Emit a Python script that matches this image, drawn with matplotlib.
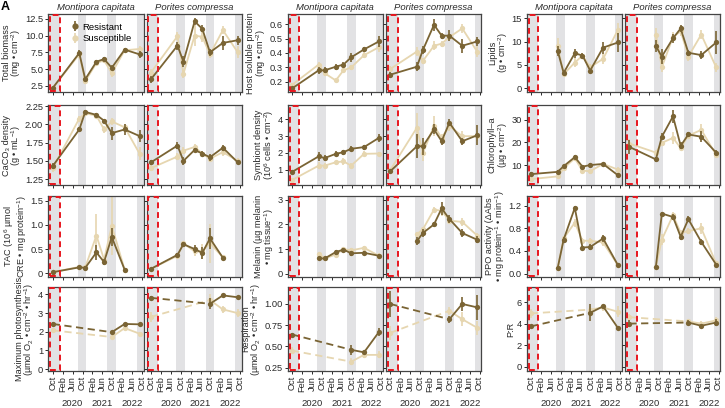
import matplotlib
matplotlib.use("Agg")
import matplotlib.pyplot as plt
import numpy as np
from matplotlib.patches import Rectangle
from matplotlib.lines import Line2D
from matplotlib.legend_handler import HandlerTuple

plt.rcParams['font.family'] = ['Liberation Sans', 'DejaVu Sans']
plt.rcParams['mathtext.fontset'] = 'custom'
plt.rcParams['mathtext.rm'] = 'Liberation Sans'
nan = np.nan

# sampling times, months since Oct 2019
t_all = [0, 10.7, 13.1, 17.6, 20.7, 23.8, 29, 35]
t_resp = [0, 23.8, 29, 35]
tick_months = [0, 4, 8, 12, 16, 20, 24, 28, 32, 36]
tick_labels = ["Oct", "Feb", "Jun", "Oct", "Feb", "Jun", "Oct", "Feb", "Jun", "Oct"]
year_months = [8, 20, 32]
year_labels = ["2020", "2021", "2022"]
species = ["Montipora capitata", "Porites compressa"]

# Total biomass
biomass_mc_R = [2.2, 7.4, 3.5, 6.1, 6.5, 5.2, 7.9, 7.2]
biomass_mc_R_err = [0.2, 0.4, 0.3, 0.3, 0.3, 0.4, 0.3, 0.5]
biomass_mc_S = [2.2, 7.2, 3.2, 5.9, 6.3, 4.4, 7.8, 8.0]
biomass_mc_S_err = [0.2, 0.5, 0.4, 0.3, 0.4, 0.5, 0.3, 0.5]
biomass_pc_R = [3.5, 8.5, 6.1, 12.1, 11.0, 7.5, 8.9, 9.3]
biomass_pc_R_err = [0.5, 0.6, 0.8, 0.5, 0.5, 0.5, 1.0, 0.7]
biomass_pc_S = [4.5, 9.9, 4.3, 10.0, 9.8, 7.2, 10.8, 7.5]
biomass_pc_S_err = [0.5, 0.6, 0.6, 1.5, 0.7, 0.5, 0.6, 0.9]

# Host soluble protein
protein_mc_R = [0.155, 0.28, 0.28, 0.305, 0.32, 0.37, 0.425, 0.48]
protein_mc_R_err = [0.01, 0.025, 0.02, 0.02, 0.02, 0.03, 0.02, 0.04]
protein_mc_S = [0.18, 0.32, 0.26, 0.21, 0.28, 0.30, 0.385, 0.44]
protein_mc_S_err = [0.01, 0.02, 0.02, 0.01, 0.02, 0.02, 0.02, 0.03]
protein_pc_R = [0.25, 0.305, 0.42, 0.595, 0.52, 0.52, 0.45, 0.48]
protein_pc_R_err = [0.02, 0.03, 0.03, 0.04, 0.02, 0.04, 0.05, 0.03]
protein_pc_S = [0.29, 0.41, 0.345, 0.45, 0.465, 0.51, 0.57, 0.41]
protein_pc_S_err = [0.02, 0.03, 0.02, 0.03, 0.02, 0.02, 0.03, 0.04]

# Lipids
lipids_mc_R = [nan, 8.0, 3.3, 7.5, 7.0, 3.8, 8.7, 9.8]
lipids_mc_R_err = [0, 1.0, 0.4, 1.0, 0.6, 0.4, 1.3, 2.0]
lipids_mc_S = [nan, 9.0, 3.0, 5.5, 7.0, 4.5, 6.3, 12.5]
lipids_mc_S_err = [0, 1.8, 0.4, 1.0, 0.6, 0.8, 1.0, 1.5]
lipids_pc_R = [nan, 9.0, 6.8, 10.7, 12.8, 7.6, 7.1, 9.8]
lipids_pc_R_err = [0, 1.3, 1.5, 1.0, 0.8, 0.6, 0.9, 2.5]
lipids_pc_S = [nan, 11.5, 4.5, 11.0, 12.2, 6.8, 11.5, 4.5]
lipids_pc_S_err = [0, 1.5, 1.0, 1.0, 1.0, 1.0, 1.0, 1.0]

# CaCO3 density
calc_mc_R = [1.43, 1.93, 2.17, 2.13, 2.05, 1.88, 1.93, 1.84]
calc_mc_R_err = [0.04, 0.03, 0.02, 0.02, 0.03, 0.09, 0.07, 0.08]
calc_mc_S = [1.40, 2.08, 2.15, 2.12, 1.93, 2.04, 1.96, 1.60]
calc_mc_S_err = [0.05, 0.04, 0.02, 0.03, 0.05, 0.05, 0.05, 0.09]
calc_pc_R = [1.48, 1.71, 1.50, 1.65, 1.60, 1.55, 1.68, 1.48]
calc_pc_R_err = [0.03, 0.05, 0.05, 0.03, 0.03, 0.05, 0.04, 0.02]
calc_pc_S = [1.40, 1.56, 1.64, 1.69, 1.60, 1.53, 1.62, 1.50]
calc_pc_S_err = [0.04, 0.05, 0.05, 0.04, 0.03, 0.04, 0.05, 0.04]

# Symbiont density
symb_mc_R = [0.88, 1.8, 1.7, 1.95, 2.05, 2.25, 2.35, 2.9]
symb_mc_R_err = [0.1, 0.25, 0.2, 0.15, 0.15, 0.15, 0.15, 0.25]
symb_mc_S = [0.4, 1.25, 1.25, 1.45, 1.5, 1.25, 1.95, 1.97]
symb_mc_S_err = [0.1, 0.2, 0.15, 0.1, 0.2, 0.15, 0.15, 0.1]
symb_pc_R = [0.92, 2.4, 2.4, 3.4, 2.7, 3.8, 2.7, 3.05]
symb_pc_R_err = [0.1, 0.7, 0.5, 0.3, 0.2, 0.2, 0.2, 0.6]
symb_pc_S = [1.0, 3.5, 2.0, 3.6, 2.9, 3.6, 3.0, 3.0]
symb_pc_S_err = [0.1, 0.9, 0.5, 0.6, 0.2, 0.3, 0.3, 0.3]

# Chlorophyll-a
chl_mc_R = [6.0, 7.0, 9.5, 13.5, 9.3, 10.0, 10.5, 5.5]
chl_mc_R_err = [1.0, 0.8, 0.7, 1.0, 0.8, 0.8, 0.6, 0.8]
chl_mc_S = [3.8, 5.0, 8.5, 13.0, 7.5, 7.3, 10.5, 8.0]
chl_mc_S_err = [0.5, 0.8, 0.8, 1.0, 1.0, 1.0, 0.8, 1.0]
chl_pc_R = [18.0, 12.5, 22.5, 31.5, 18.5, 23.5, 22.5, 15.5]
chl_pc_R_err = [3.0, 1.0, 1.5, 3.0, 1.5, 1.0, 2.5, 1.0]
chl_pc_S = [19.5, 15.5, 19.8, 22.0, 17.5, 23.0, 25.5, 14.5]
chl_pc_S_err = [2.0, 1.0, 1.0, 2.5, 1.0, 1.0, 2.5, 1.0]

# Total antioxidant capacity
tac_mc_R = [0.02, 0.12, 0.11, 0.43, 0.23, 0.75, 0.07, nan]
tac_mc_R_err = [0.02, 0.03, 0.03, 0.15, 0.07, 0.18, 0.02, 0]
tac_mc_S = [0.02, 0.13, 0.12, 0.78, 0.28, 0.98, 0.07, nan]
tac_mc_S_err = [0.02, 0.03, 0.03, 0.45, 0.07, 0.6, 0.02, 0]
tac_pc_R = [0.09, 0.38, 0.60, 0.50, 0.42, 0.72, 0.32, nan]
tac_pc_R_err = [0.02, 0.03, 0.05, 0.08, 0.13, 0.22, 0.03, 0]
tac_pc_S = [0.09, 0.36, 0.62, 0.45, 0.45, 0.62, 0.33, nan]
tac_pc_S_err = [0.02, 0.03, 0.05, 0.1, 0.15, 0.4, 0.03, 0]

# Melanin
mel_mc_R = [nan, 0.62, 0.62, 0.88, 0.98, 0.83, 0.85, 0.73]
mel_mc_R_err = [0, 0.05, 0.04, 0.1, 0.08, 0.1, 0.08, 0.08]
mel_mc_S = [nan, 0.82, 0.62, 0.78, 1.0, 0.95, 1.05, 0.73]
mel_mc_S_err = [0, 0.08, 0.04, 0.08, 0.08, 0.08, 0.08, 0.1]
mel_pc_R = [nan, 1.32, 1.65, 2.0, 2.65, 2.22, 1.65, 1.38]
mel_pc_R_err = [0, 0.15, 0.15, 0.1, 0.25, 0.15, 0.15, 0.15]
mel_pc_S = [nan, 1.6, 1.8, 2.6, 2.55, 2.15, 2.1, 1.55]
mel_pc_S_err = [0, 0.1, 0.1, 0.1, 0.2, 0.1, 0.15, 0.1]

# PPO activity
ppo_mc_R = [nan, 0.10, 0.60, 1.16, 0.46, 0.47, 0.62, 0.15]
ppo_mc_R_err = [0, 0.03, 0.05, 0.03, 0.03, 0.05, 0.06, 0.03]
ppo_mc_S = [nan, 0.10, 0.62, 0.90, 0.58, 0.58, 0.55, 0.15]
ppo_mc_S_err = [0, 0.03, 0.05, 0.07, 0.05, 0.05, 0.06, 0.03]
ppo_pc_R = [nan, 0.12, 1.06, 1.0, 0.65, 0.96, 0.56, 0.16]
ppo_pc_R_err = [0, 0.03, 0.02, 0.05, 0.05, 0.05, 0.05, 0.03]
ppo_pc_S = [nan, 0.12, 0.60, 1.03, 0.72, 0.75, 0.80, 0.18]
ppo_pc_S_err = [0, 0.03, 0.1, 0.05, 0.05, 0.05, 0.1, 0.03]

# Maximum photosynthesis
pmax_mc_R = [2.42, 1.98, 2.42, 2.4]
pmax_mc_R_err = [0.1, 0.08, 0.05, 0.05]
pmax_mc_S = [2.08, 1.72, 2.2, 1.9]
pmax_mc_S_err = [0.1, 0.08, 0.08, 0.08]
pmax_pc_R = [3.82, 3.5, 3.95, 3.85]
pmax_pc_R_err = [0.1, 0.3, 0.05, 0.05]
pmax_pc_S = [2.8, 3.7, 3.2, 3.0]
pmax_pc_S_err = [0.25, 0.3, 0.2, 0.2]

# Respiration
resp_mc_R = [0.64, 0.46, 0.43, 0.67]
resp_mc_R_err = [0.02, 0.06, 0.02, 0.05]
resp_mc_S = [0.45, 0.32, 0.40, 0.40]
resp_mc_S_err = [0.04, 0.04, 0.04, 0.04]
resp_pc_R = [1.0, 0.82, 1.0, 0.96]
resp_pc_R_err = [0.15, 0.04, 0.08, 0.15]
resp_pc_S = [0.66, 0.92, 0.82, 0.72]
resp_pc_S_err = [0.08, 0.05, 0.08, 0.08]

# P:R
pr_mc_R = [3.75, 5.0, 5.6, 3.6]
pr_mc_R_err = [0.15, 0.8, 0.15, 0.1]
pr_mc_S = [4.95, 5.3, 5.5, 5.1]
pr_mc_S_err = [0.4, 0.3, 0.3, 0.5]
pr_pc_R = [4.0, 4.1, 3.8, 4.1]
pr_pc_R_err = [0.3, 0.2, 0.1, 0.3]
pr_pc_S = [4.6, 4.2, 4.0, 4.3]
pr_pc_S_err = [0.3, 0.2, 0.2, 0.3]

COL_R = '#7a6434'
COL_S = '#e6d6b0'
GREY = '#e2e2e4'
RED = '#e8161e'
TXT = '#2a2a2a'

panels = [
    (0, 0, "Total biomass\n(mg • cm$^{-2}$)", (1.6, 13.2), [2.5, 5, 7.5, 10, 12.5], ["2.5", "5.0", "7.5", "10.0", "12.5"], t_all,
     [(biomass_mc_R, biomass_mc_R_err, biomass_mc_S, biomass_mc_S_err), (biomass_pc_R, biomass_pc_R_err, biomass_pc_S, biomass_pc_S_err)], False),
    (0, 1, "Host soluble protein\n(mg • cm$^{-2}$)", (0.13, 0.67), [0.2, 0.3, 0.4, 0.5, 0.6], ["0.2", "0.3", "0.4", "0.5", "0.6"], t_all,
     [(protein_mc_R, protein_mc_R_err, protein_mc_S, protein_mc_S_err), (protein_pc_R, protein_pc_R_err, protein_pc_S, protein_pc_S_err)], False),
    (0, 2, "Lipids\n(g • cm$^{-2}$)", (-0.8, 15.9), [0, 5, 10, 15], ["0", "5", "10", "15"], t_all,
     [(lipids_mc_R, lipids_mc_R_err, lipids_mc_S, lipids_mc_S_err), (lipids_pc_R, lipids_pc_R_err, lipids_pc_S, lipids_pc_S_err)], False),
    (1, 0, "CaCO₃ density\n(g • mL$^{-1}$)", (1.17, 2.265), [1.25, 1.5, 1.75, 2.0, 2.25], ["1.25", "1.50", "1.75", "2.00", "2.25"], t_all,
     [(calc_mc_R, calc_mc_R_err, calc_mc_S, calc_mc_S_err), (calc_pc_R, calc_pc_R_err, calc_pc_S, calc_pc_S_err)], False),
    (1, 1, "Symbiont density\n(10$^6$ cells • cm$^{-2}$)", (0.1, 4.85), [1, 2, 3, 4], ["1", "2", "3", "4"], t_all,
     [(symb_mc_R, symb_mc_R_err, symb_mc_S, symb_mc_S_err), (symb_pc_R, symb_pc_R_err, symb_pc_S, symb_pc_S_err)], False),
    (1, 2, "Chlorophyll–a\n(µg • cm$^{-2}$)", (1.2, 36.5), [10, 20, 30], ["10", "20", "30"], t_all,
     [(chl_mc_R, chl_mc_R_err, chl_mc_S, chl_mc_S_err), (chl_pc_R, chl_pc_R_err, chl_pc_S, chl_pc_S_err)], False),
    (2, 0, "TAC (10$^6$ µmol\nCRE • mg protein$^{-1}$)", (-0.08, 1.6), [0, 0.5, 1.0, 1.5], ["0", "0.5", "1.0", "1.5"], t_all,
     [(tac_mc_R, tac_mc_R_err, tac_mc_S, tac_mc_S_err), (tac_pc_R, tac_pc_R_err, tac_pc_S, tac_pc_S_err)], False),
    (2, 1, "Melanin (µg melanin\n• mg tissue$^{-1}$)", (-0.13, 3.15), [0, 1, 2, 3], ["0", "1", "2", "3"], t_all,
     [(mel_mc_R, mel_mc_R_err, mel_mc_S, mel_mc_S_err), (mel_pc_R, mel_pc_R_err, mel_pc_S, mel_pc_S_err)], False),
    (2, 2, "PPO activity (ΔAbs\n• mg protein$^{-1}$ • min$^{-1}$)", (-0.06, 1.37), [0, 0.4, 0.8, 1.2], ["0.0", "0.4", "0.8", "1.2"], t_all,
     [(ppo_mc_R, ppo_mc_R_err, ppo_mc_S, ppo_mc_S_err), (ppo_pc_R, ppo_pc_R_err, ppo_pc_S, ppo_pc_S_err)], False),
    (3, 0, "Maximum photosynthesis\n(µmol O$_2$ • cm$^{-2}$ • hr$^{-1}$)", (-0.1, 4.4), [0, 1, 2, 3, 4], ["0", "1", "2", "3", "4"], t_resp,
     [(pmax_mc_R, pmax_mc_R_err, pmax_mc_S, pmax_mc_S_err), (pmax_pc_R, pmax_pc_R_err, pmax_pc_S, pmax_pc_S_err)], True),
    (3, 1, "Respiration\n(µmol O$_2$ • cm$^{-2}$ • hr$^{-1}$)", (0.21, 1.2), [0.25, 0.5, 0.75, 1.0], ["0.25", "0.50", "0.75", "1.00"], t_resp,
     [(resp_mc_R, resp_mc_R_err, resp_mc_S, resp_mc_S_err), (resp_pc_R, resp_pc_R_err, resp_pc_S, resp_pc_S_err)], True),
    (3, 2, "P:R", (-0.4, 7.4), [0, 2, 4, 6], ["0", "2", "4", "6"], t_resp,
     [(pr_mc_R, pr_mc_R_err, pr_mc_S, pr_mc_S_err), (pr_pc_R, pr_pc_R_err, pr_pc_S, pr_pc_S_err)], True),
]

W, H = 725, 408
fig = plt.figure(figsize=(W / 100, H / 100), dpi=100)

col_left = [48.3, 287.7, 526.7]
pw = 95.2
gap = 3.0
row_top = [14, 105, 196, 287]
row_h = [78, 80, 81, 84]
XLIM = (-1.8, 36.6)
bands = [(-3, 2.9), (10, 13.6), (22, 25.6), (34, 40)]


def draw_series(ax, t, y, e, color, dashed, z):
    t = np.asarray(t, float)
    y = np.asarray(y, float)
    e = np.asarray(e, float)
    ok = ~np.isnan(y)
    ax.errorbar(t[ok], y[ok], yerr=e[ok], fmt='none', ecolor=color, elinewidth=1.2, capsize=0, zorder=z)
    if dashed:
        ax.plot(t[:2], y[:2], color=color, lw=1.3, ls=(0, (4, 2.5)), zorder=z)
        ax.plot(t[1:], y[1:], color=color, lw=1.3, zorder=z)
    else:
        ax.plot(t[ok], y[ok], color=color, lw=1.3, zorder=z)
    ax.plot(t[ok], y[ok], 'o', color=color, ms=3.8, mew=0, zorder=z + 0.1)


label_jobs = []
for (r, c, ylab, ylim, yt, ytl, tt, ser, dashed) in panels:
    for k in range(2):
        x0 = col_left[c] + k * (pw + gap)
        y0 = row_top[r] + row_h[r]
        ax = fig.add_axes([x0 / W, 1 - y0 / H, pw / W, row_h[r] / H])
        ax.set_xlim(*XLIM)
        ax.set_ylim(*ylim)
        for b0, b1 in bands:
            ax.axvspan(b0, b1, color=GREY, lw=0, zorder=0)
        yr = ylim[1] - ylim[0]
        ax.add_patch(Rectangle((-1.0, ylim[0] + 0.008 * yr), 3.9, 0.984 * yr, fill=False,
                               ec=RED, lw=1.4, ls=(0, (3, 2)), zorder=5))
        mR, eR, mS, eS = ser[k]
        draw_series(ax, tt, mS, eS, COL_S, dashed, 2)
        draw_series(ax, tt, mR, eR, COL_R, dashed, 3)
        for s in ax.spines.values():
            s.set_color('#444444')
            s.set_linewidth(0.9)
        ax.set_yticks(yt)
        ax.set_xticks(tick_months)
        ax.tick_params(length=2.5, width=0.7, color=TXT, labelsize=6.7, labelcolor=TXT, pad=1.2)
        if k == 0:
            ax.set_yticklabels(ytl)
            label_jobs.append((ax, ylab, row_top[r] + row_h[r] / 2))
        else:
            ax.set_yticklabels([])
        if r == 3:
            ax.set_xticklabels(tick_labels, rotation=90, fontsize=6.7)
            for ym, yl in zip(year_months, year_labels):
                ax.text(ym, -0.33, yl, transform=ax.get_xaxis_transform(), ha='center',
                        va='top', fontsize=6.8, color=TXT)
        else:
            ax.set_xticklabels([])
        if r == 0:
            ax.set_title(species[k], fontsize=6.8, style='italic', color=TXT, pad=3)
        if r == 0 and c == 0 and k == 0:
            hR = (Line2D([], [], color=COL_R, marker='|', ms=7, mew=1.2, ls='none'),
                  Line2D([], [], color=COL_R, marker='o', ms=4.5, mew=0, ls='none'))
            hS = (Line2D([], [], color=COL_S, marker='|', ms=7, mew=1.2, ls='none'),
                  Line2D([], [], color=COL_S, marker='o', ms=4.5, mew=0, ls='none'))
            ax.legend([hR, hS], ['Resistant', 'Susceptible'],
                      handler_map={tuple: HandlerTuple(ndivide=1)},
                      loc='upper left', bbox_to_anchor=(0.17, 0.96), frameon=False, fontsize=6.8,
                      handlelength=1.0, handletextpad=0.3, labelspacing=0.25, borderpad=0.1)

fig.canvas.draw()
renderer = fig.canvas.get_renderer()
for ax, ylab, yc in label_jobs:
    xs = [t.get_window_extent(renderer).x0 for t in ax.get_yticklabels() if t.get_text()]
    xr = min(xs) - 1.5
    fig.text(xr / W, 1 - yc / H, ylab, rotation=90, ha='right', va='center', fontsize=6.6,
             color=TXT, linespacing=0.9, multialignment='center')

fig.text(1 / W, 1 - 1 / H, "A", fontsize=9, fontweight='bold', va='top', ha='left')
fig.savefig("out.png", dpi=100)
